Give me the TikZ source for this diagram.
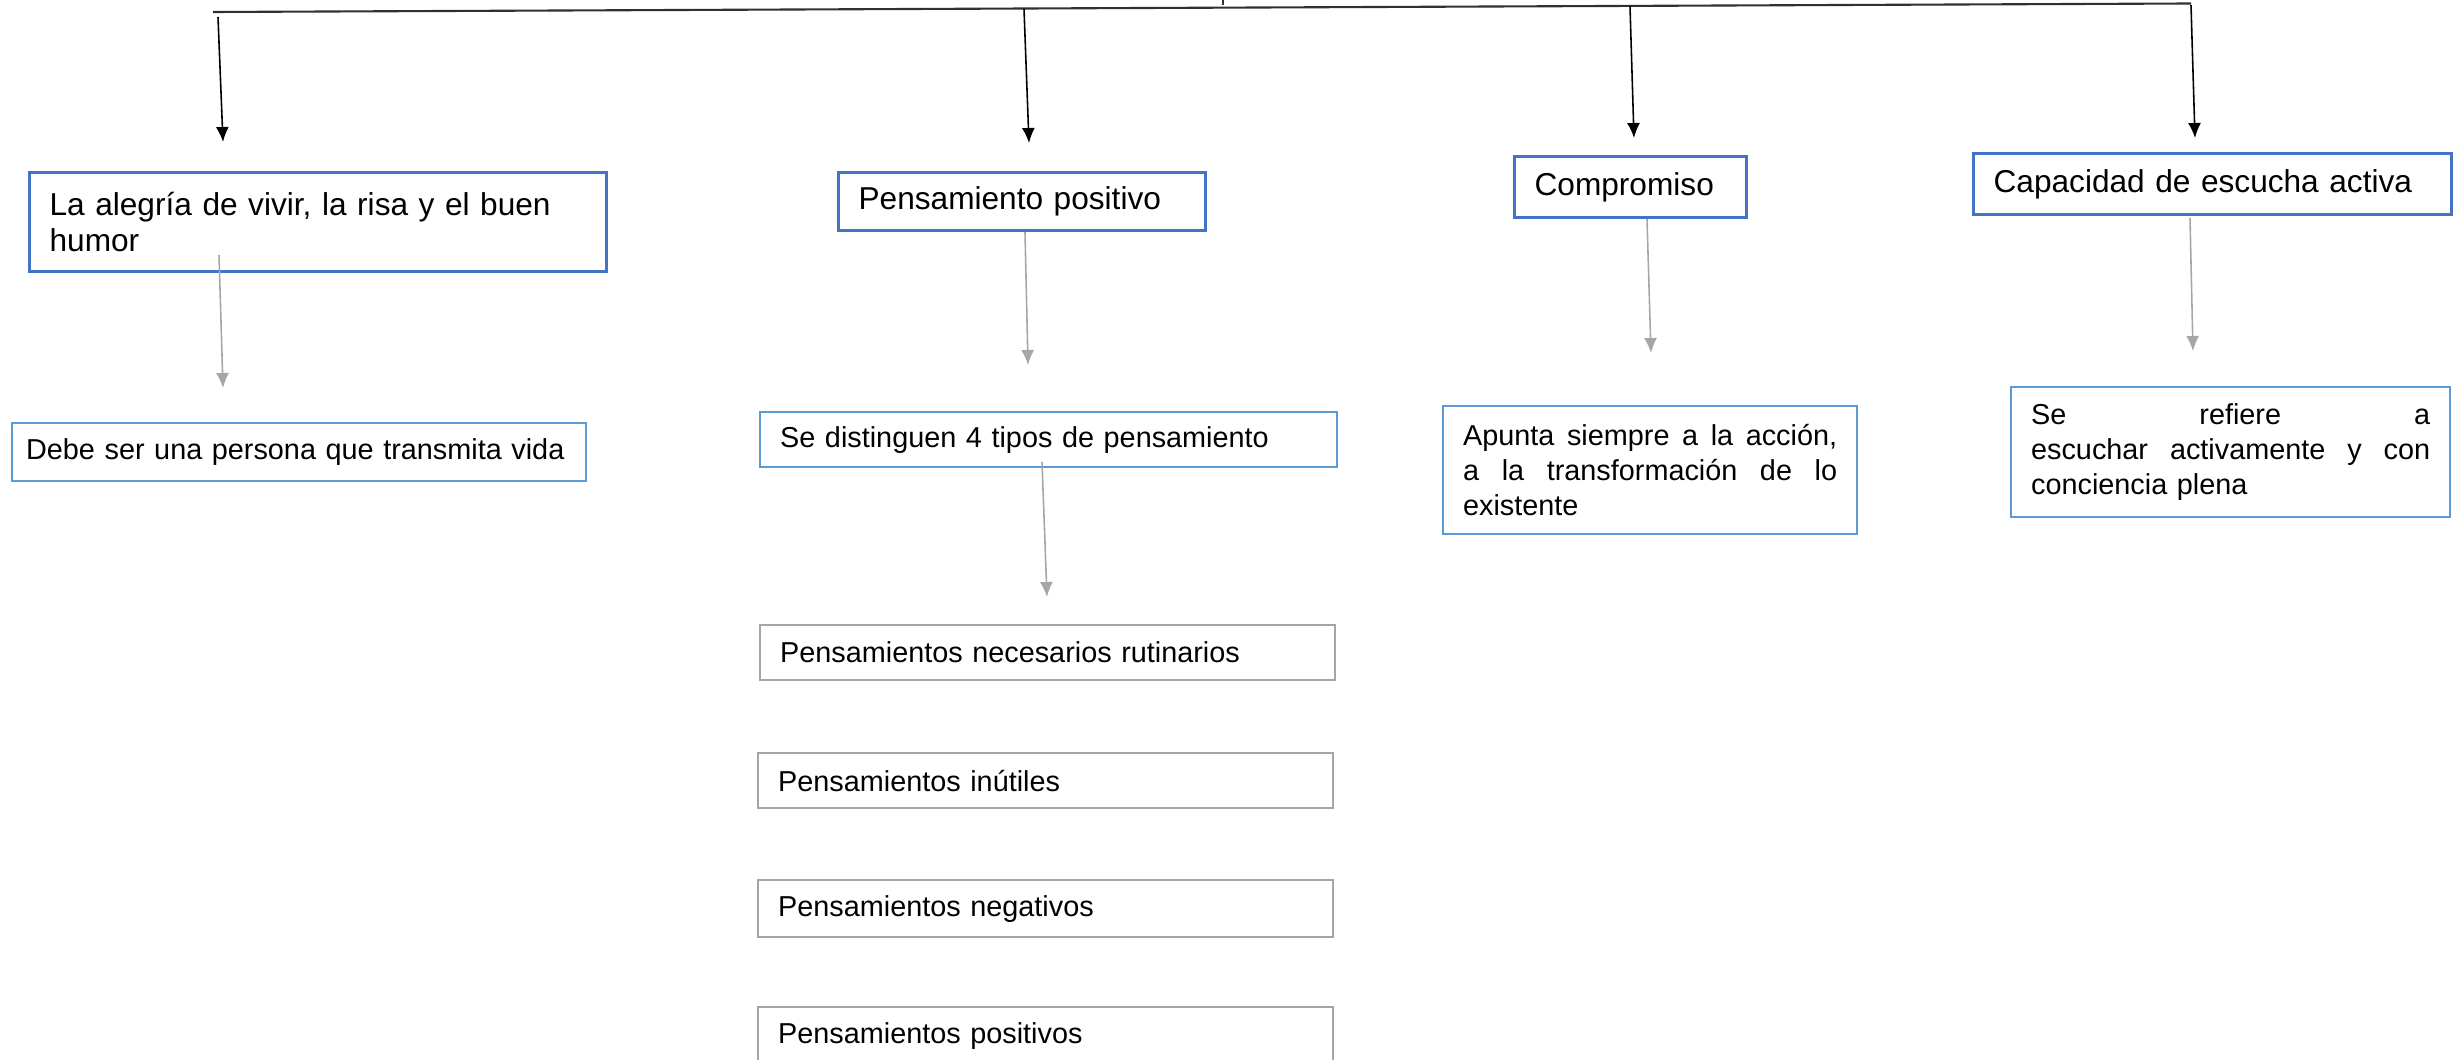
\documentclass[tikz,border=0pt]{standalone}
\usepackage{fontspec}
\setmainfont{Liberation Sans}
\usetikzlibrary{arrows.meta}
\definecolor{mainblue}{HTML}{4472C4}
\definecolor{subblue}{HTML}{5B9BD5}
\definecolor{boxgray}{HTML}{A5A5A5}
\definecolor{arrgray}{HTML}{A6A6A6}
\definecolor{barline}{HTML}{303030}
\tikzset{
  txt/.style={anchor=north west, fill=white, inner xsep=0.2cm, inner ysep=0pt,
    align=left, font=\fontsize{8.2}{10}\selectfont},
  mainbox/.style={txt, draw=mainblue, line width=0.9pt, font=\fontsize{9}{10.4}\selectfont},
  subbox/.style={txt, draw=subblue, line width=0.65pt},
  graybox/.style={txt, draw=boxgray, line width=0.65pt},
  bar/.style={draw=barline, line width=0.6pt},
  blackarr/.style={draw=black, line width=0.45pt, -{Latex[length=0.15cm,width=0.13cm]}},
  grayarr/.style={draw=arrgray, line width=0.45pt, -{Latex[length=0.15cm,width=0.13cm]}}
}
\begin{document}
\begin{tikzpicture}
  \useasboundingbox (0,0) rectangle (24.58,-10.60);

  % top bar
  \coordinate (barL) at (2.13,-0.12);
  \coordinate (barR) at (21.91,-0.035);
  \coordinate (tickT) at (12.23,0);
  \coordinate (tickB) at (12.23,-0.05);
  \draw[bar] (barL) -- (barR);
  \draw[bar] (tickT) -- (tickB);

  % first level
  \node[mainbox, text width=5.37cm, minimum height=0.99cm] (alegria) at (0.28,-1.71)
    {La alegría de vivir, la risa y el buen\\humor};
  \node[mainbox, text width=3.27cm, minimum height=0.58cm] (pensamiento) at (8.37,-1.71)
    {Pensamiento positivo};
  \node[mainbox, text width=1.92cm, minimum height=0.61cm] (compromiso) at (15.13,-1.55)
    {Compromiso};
  \node[mainbox, text width=4.38cm, minimum height=0.61cm] (escucha) at (19.72,-1.52)
    {Capacidad de escucha activa};

  % second level
  \node[subbox, inner xsep=0.14cm, text width=5.46cm, minimum height=0.58cm] (vida) at (0.11,-4.22)
    {Debe ser una persona que transmita vida};
  \node[subbox, text width=5.37cm, minimum height=0.55cm] (tipos) at (7.59,-4.11)
    {Se distinguen 4 tipos de pensamiento};
  \node[subbox, text width=3.74cm, minimum height=1.28cm] (accion) at (14.42,-4.05)
    {Apunta\hfill siempre\hfill a\hfill la\hfill acción,\\a\hfill la\hfill transformación\hfill de\hfill lo\\existente};
  \node[subbox, text width=3.99cm, minimum height=1.30cm] (conciencia) at (20.10,-3.86)
    {Se\hfill refiere\hfill a\\escuchar\hfill activamente\hfill y\hfill con\\conciencia plena};

  % types of thoughts
  \node[graybox, text width=5.35cm, minimum height=0.55cm] (rutinarios) at (7.59,-6.24)
    {Pensamientos necesarios rutinarios};
  \node[graybox, text width=5.35cm, minimum height=0.55cm] (inutiles) at (7.57,-7.52)
    {Pensamientos inútiles};
  \node[graybox, text width=5.35cm, minimum height=0.57cm] (negativos) at (7.57,-8.79)
    {Pensamientos negativos};
  \node[graybox, text width=5.35cm, minimum height=0.58cm] (positivos) at (7.57,-10.06)
    {Pensamientos positivos};

  % black arrows from the bar
  \coordinate (aS) at (2.18,-0.17);  \coordinate (aE) at (2.23,-1.42);
  \coordinate (bS) at (10.24,-0.09); \coordinate (bE) at (10.29,-1.43);
  \coordinate (cS) at (16.30,-0.06); \coordinate (cE) at (16.34,-1.38);
  \coordinate (dS) at (21.91,-0.05); \coordinate (dE) at (21.95,-1.38);
  \draw[blackarr] (aS) -- (aE);
  \draw[blackarr] (bS) -- (bE);
  \draw[blackarr] (cS) -- (cE);
  \draw[blackarr] (dS) -- (dE);

  % gray arrows
  \coordinate (a2S) at (2.19,-2.55);  \coordinate (a2E) at (2.23,-3.88);
  \coordinate (b2S) at (10.25,-2.32); \coordinate (b2E) at (10.28,-3.65);
  \coordinate (t2S) at (10.42,-4.62); \coordinate (t2E) at (10.47,-5.97);
  \coordinate (c2S) at (16.47,-2.19); \coordinate (c2E) at (16.51,-3.53);
  \coordinate (d2S) at (21.90,-2.18); \coordinate (d2E) at (21.93,-3.51);
  \draw[grayarr] (a2S) -- (a2E);
  \draw[grayarr] (b2S) -- (b2E);
  \draw[grayarr] (t2S) -- (t2E);
  \draw[grayarr] (c2S) -- (c2E);
  \draw[grayarr] (d2S) -- (d2E);
\end{tikzpicture}
\end{document}
